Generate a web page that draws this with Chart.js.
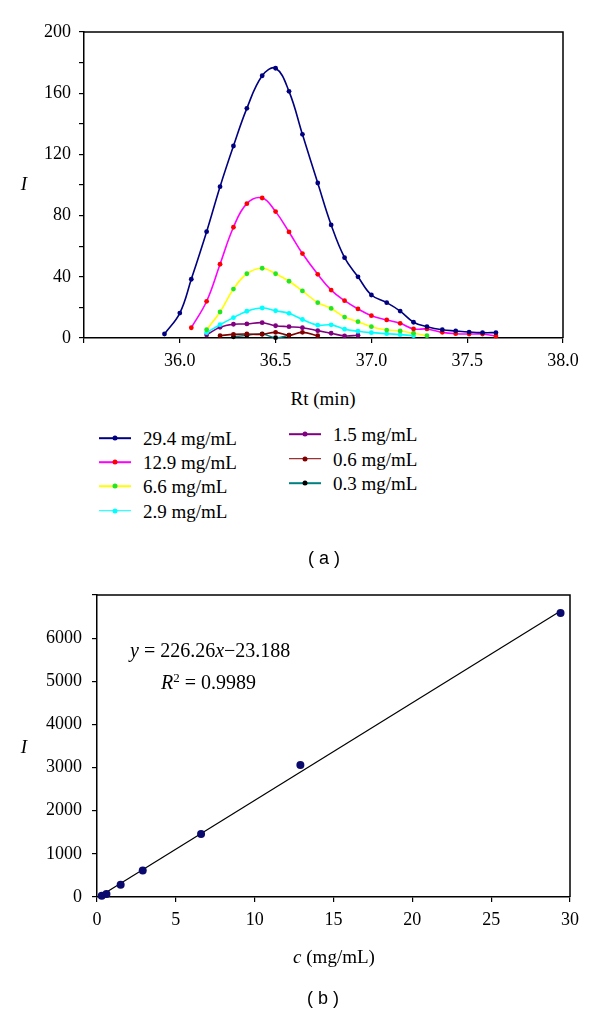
<!DOCTYPE html>
<html>
<head>
<meta charset="utf-8">
<script src="https://cdn.jsdelivr.net/npm/chart.js@4.4.1/dist/chart.umd.min.js"></script>
<style>
html,body{margin:0;padding:0;background:#fff;}
#page{position:relative;width:600px;height:1013px;overflow:hidden;font-family:"Liberation Serif","Times New Roman",serif;color:#000;background:#fff;}
canvas{position:absolute;left:0;}
.t{position:absolute;white-space:nowrap;line-height:1;}
.c{transform:translate(-50%,-50%);}
.l{transform:translateY(-50%);}
.cap{font-family:"Liberation Sans",Arial,sans-serif;font-size:18px;}
.lg-line{position:absolute;height:1.6px;width:32px;transform:translateY(-50%);}
.lg-dot{position:absolute;width:5px;height:5px;border-radius:50%;transform:translate(-50%,-50%);}
</style>
</head>
<body>
<div id="page">
  <canvas id="chartA" width="600" height="380" style="top:0"></canvas>
  <canvas id="chartB" width="600" height="400" style="top:560px"></canvas>

  <div class="t c" style="left:24px;top:183px;font-size:19px;font-style:italic;">I</div>
  <div class="t c" style="left:323px;top:398px;font-size:19px;">Rt (min)</div>
  <div id="legendA"></div>
  <div class="t c cap" style="left:324px;top:558px;">( a )</div>

  <div class="t c" style="left:24px;top:746px;font-size:19px;font-style:italic;">I</div>
  <div class="t l" style="left:130px;top:650px;font-size:20px;"><i>y</i> = 226.26<i>x</i>&minus;23.188</div>
  <div class="t l" style="left:161px;top:681px;font-size:20px;"><i>R</i><sup style="font-size:13px;vertical-align:7px;">2</sup> = 0.9989</div>
  <div class="t c" style="left:334px;top:956px;font-size:19px;"><i>c</i> (mg/mL)</div>
  <div class="t c cap" style="left:323px;top:998px;">( b )</div>
</div>
<script>
// ---------- data: chart (a) ----------
const rt = [35.92,36.00,36.06,36.14,36.21,36.28,36.35,36.43,36.50,36.57,36.64,36.72,36.79,36.86,36.93,37.00,37.08,37.15,37.22,37.29,37.37,37.44,37.51,37.58,37.65];
const seriesLabels = ['29.4 mg/mL','12.9 mg/mL','6.6 mg/mL','2.9 mg/mL','1.5 mg/mL','0.6 mg/mL','0.3 mg/mL'];
const i29_4 = [2.6,16.3,38.4,69.5,98.9,125.5,150.1,171.4,176.3,161.2,133.1,101.3,73.9,52.5,40.0,28.1,23.1,17.6,10.3,7.4,5.4,4.6,3.9,3.5,3.5];
const i12_9 = [null,null,6.7,24.0,48.2,72.4,87.8,91.5,82.6,69.3,55.2,41.6,31.3,24.4,19.0,14.6,11.8,9.6,5.9,5.9,3.7,2.8,2.6,2.6,1.3];
const i6_6  = [null,null,null,5.4,17.0,32.0,42.0,45.6,42.0,37.1,30.8,23.1,19.3,13.7,10.7,7.4,5.2,4.6,3.1,1.5,null,null,null,null,null];
const i2_9  = [null,null,null,3.5,8.7,13.3,17.5,19.6,17.8,16.1,12.1,8.4,8.6,5.8,4.4,3.5,2.8,2.2,1.5,null,null,null,null,null,null];
const i1_5  = [null,null,null,2.0,7.0,9.0,9.2,10.0,8.0,7.4,6.7,4.8,3.1,1.4,1.8,null,null,null,null,null,null,null,null,null,null];
const i0_6  = [null,null,null,null,1.5,2.4,2.6,2.4,3.7,1.8,3.7,1.5,null,null,null,null,null,null,null,null,null,null,null,null,null];
const i0_3  = [null,null,null,null,null,0.8,1.8,2.6,0.2,1.8,null,null,null,null,null,null,null,null,null,null,null,null,null,null,null];
const yTicksA = [0,40,80,120,160,200];
const xTicksA = [36.0,36.5,37.0,37.5,38.0];

// ---------- data: chart (b) ----------
const conc   = [0.3,0.6,1.5,2.9,6.6,12.9,29.4];
const signal = [30,70,286,612,1460,3060,6582];
const fitSlope = 226.26, fitIntercept = -23.188;
const fitRange = [0.1025, 29.4];
const yTicksB = [0,1000,2000,3000,4000,5000,6000];
const xTicksB = [0,5,10,15,20,25,30];

// ---------- styles ----------
const lineColors   = ['#000080','#FF00FF','#FFFF00','#00FFFF','#800080','#800000','#008080'];
const markerColors = ['#000080','#FF0000','#22E622','#00FFFF','#800080','#800000','#000000'];
const seriesValues = [i29_4,i12_9,i6_6,i2_9,i1_5,i0_6,i0_3];

const SERIF = 'Liberation Serif, Times New Roman, serif';
Chart.defaults.font.family = SERIF;
Chart.defaults.color = '#000';
const tickFont = {family: SERIF, size: 18};

const boxPlugin = {
  id: 'box',
  afterDraw(chart) {
    const {ctx, chartArea: a} = chart;
    ctx.save();
    ctx.strokeStyle = '#000';
    ctx.lineWidth = 1.5;
    ctx.beginPath();
    ctx.moveTo(a.left, a.top); ctx.lineTo(a.right, a.top); ctx.lineTo(a.right, a.bottom);
    ctx.stroke();
    ctx.restore();
  }
};

function axisCommon(extra) {
  return Object.assign({
    border: {display: true, color: '#000', width: 1.5},
    grid: {drawOnChartArea: false, drawTicks: true, tickLength: 5, color: '#000', lineWidth: 1.2}
  }, extra);
}

const dsA = seriesValues.map((vals, i) => ({
  label: seriesLabels[i],
  data: rt.map((x, k) => ({x, y: vals[k]})).filter(p => p.y !== null),
  borderColor: lineColors[i],
  backgroundColor: markerColors[i],
  pointBackgroundColor: markerColors[i],
  pointBorderColor: markerColors[i],
  pointRadius: 2.4,
  pointBorderWidth: 0,
  borderWidth: 1.6,
  tension: 0.4,
  clip: false
}));

const chartA = new Chart(document.getElementById('chartA'), {
  type: 'line',
  data: {datasets: dsA},
  options: {
    responsive: false,
    animation: false,
    events: [],
    layout: {padding: {top: 32, right: 37, left: 0, bottom: 0}},
    plugins: {legend: {display: false}, tooltip: {enabled: false}},
    scales: {
      x: axisCommon({
        type: 'linear', min: 35.5, max: 38.0,
        afterBuildTicks: s => { s.ticks = [35.5].concat(xTicksA).map(v => ({value: v})); },
        ticks: {padding: 7, font: tickFont, callback: v => xTicksA.includes(v) ? v.toFixed(1) : ''},
        afterFit: s => { s.height = 42; }
      }),
      y: axisCommon({
        type: 'linear', min: 0, max: 200,
        ticks: {stepSize: 20, padding: 8, font: tickFont, callback: v => yTicksA.includes(v) ? String(v) : ''},
        afterFit: s => { s.width = 84; }
      })
    }
  },
  plugins: [boxPlugin]
});

// legend (a), generated from the chart datasets
const legendEl = document.getElementById('legendA');
chartA.data.datasets.forEach((ds, i) => {
  const col = i < 4 ? 0 : 1;
  const row = i < 4 ? i : i - 4;
  const y = col === 0 ? 438 + row * 24.2 : 434 + row * 24.5;
  const lx = col === 0 ? 99 : 289;
  const tx = col === 0 ? 143 : 333;
  const line = document.createElement('div');
  line.className = 'lg-line';
  line.style.cssText = `left:${lx}px;top:${y}px;background:${ds.borderColor};`;
  const dot = document.createElement('div');
  dot.className = 'lg-dot';
  dot.style.cssText = `left:${lx + 16}px;top:${y}px;background:${ds.pointBackgroundColor};`;
  const txt = document.createElement('div');
  txt.className = 't l';
  txt.style.cssText = `left:${tx}px;top:${y}px;font-size:19px;`;
  txt.textContent = ds.label;
  legendEl.appendChild(line); legendEl.appendChild(dot); legendEl.appendChild(txt);
});

// ---------- chart (b) ----------
const chartB = new Chart(document.getElementById('chartB'), {
  type: 'scatter',
  data: {
    datasets: [
      {
        label: 'data',
        data: conc.map((c, k) => ({x: c, y: signal[k]})),
        pointRadius: 4,
        pointBackgroundColor: '#0a0a6e',
        pointBorderColor: '#0a0a6e',
        pointBorderWidth: 0,
        clip: false
      },
      {
        label: 'fit',
        data: fitRange.map(x => ({x, y: fitSlope * x + fitIntercept})),
        showLine: true,
        borderColor: '#000',
        borderWidth: 1.2,
        pointRadius: 0,
        clip: false
      }
    ]
  },
  options: {
    responsive: false,
    animation: false,
    events: [],
    layout: {padding: {top: 35, right: 30, left: 0, bottom: 0}},
    plugins: {legend: {display: false}, tooltip: {enabled: false}},
    scales: {
      x: axisCommon({
        type: 'linear', min: 0, max: 30,
        ticks: {stepSize: 5, padding: 7, font: tickFont, callback: v => xTicksB.includes(v) ? String(v) : ''},
        afterFit: s => { s.height = 63; }
      }),
      y: axisCommon({
        type: 'linear', min: 0, max: 7000,
        ticks: {stepSize: 1000, padding: 10, font: tickFont, callback: v => yTicksB.includes(v) ? String(v) : ''},
        afterFit: s => { s.width = 97; }
      })
    }
  },
  plugins: [boxPlugin]
});
</script>
</body>
</html>
